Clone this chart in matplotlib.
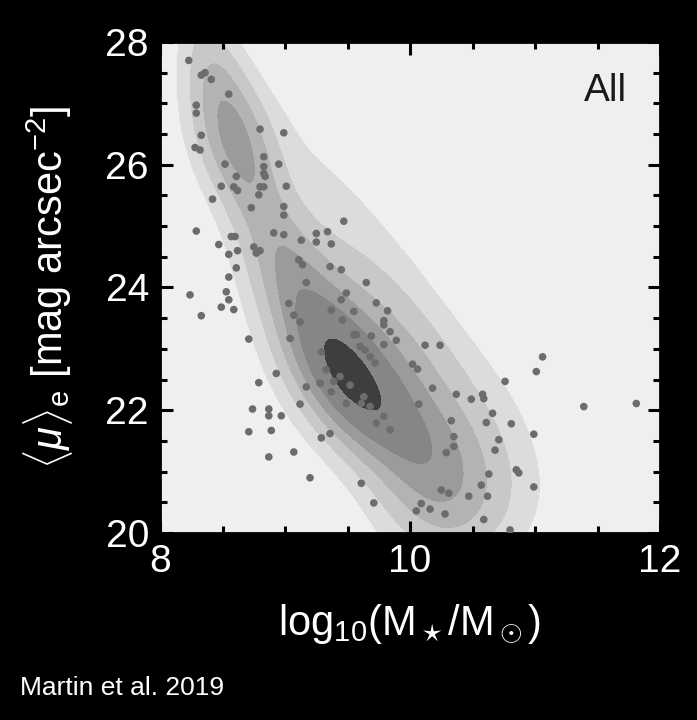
import numpy as np
import matplotlib.pyplot as plt
from matplotlib import font_manager
from matplotlib.ticker import MultipleLocator

# scatter points (log10 M*, <mu>_e)
mass = [8.23, 8.33, 8.36, 8.41, 8.55, 8.29, 8.29, 8.33, 8.28, 8.32, 8.80, 8.99, 8.83, 8.95, 8.83,
        8.83, 8.84, 8.52, 8.61, 8.49, 8.59, 8.62, 8.80, 8.83, 8.79, 9.01, 8.42, 8.73, 8.99, 8.99,
        9.47, 8.29, 8.47, 8.57, 8.60, 8.55, 8.62, 8.61, 8.55, 8.91, 8.99, 9.13, 9.25, 9.25, 9.34,
        9.37, 8.75, 8.77, 8.80, 9.11, 9.14, 9.36, 9.45, 9.65, 9.17, 8.24, 8.33, 8.53, 8.55, 8.49,
        8.59, 8.71, 8.93, 8.79, 8.74, 8.87, 8.87, 8.97, 8.71, 8.89, 8.87, 9.07, 9.20, 9.29, 9.36,
        9.12, 9.61, 9.71, 9.49, 9.45, 9.37, 9.55, 9.46, 9.73, 9.82, 9.79, 9.79, 9.84, 9.89, 9.69,
        9.55, 9.79, 10.12, 10.24, 10.02, 10.06, 10.18, 10.37, 10.49, 10.58, 10.59, 10.76, 11.01, 11.06,
        10.66, 10.81, 10.61, 10.33, 10.07, 10.35, 10.35, 10.29, 10.71, 10.68, 10.99, 10.85, 10.87, 10.63,
        10.99, 10.57, 10.62, 10.47, 10.25, 10.31, 10.09, 10.05, 10.16, 10.28, 10.59, 10.80, 11.39, 11.81,
        9.03, 9.07, 9.12, 9.04, 9.29, 9.33, 9.44, 9.39, 9.28, 9.52, 9.37, 9.63, 9.49, 9.61, 9.68,
        9.79, 9.84, 9.73, 9.60, 9.64, 9.57, 9.68, 9.72, 9.17]
mu_e = [27.70, 27.46, 27.50, 27.39, 27.15, 26.97, 26.84, 26.48, 26.28, 26.24, 26.58, 26.52, 26.13, 26.01, 25.97,
        25.86, 25.81, 26.01, 25.81, 25.65, 25.64, 25.58, 25.64, 25.64, 25.51, 25.65, 25.44, 25.30, 25.32, 25.18,
        25.08, 24.92, 24.70, 24.83, 24.83, 24.54, 24.60, 24.32, 24.17, 24.89, 24.86, 24.77, 24.88, 24.74, 24.91,
        24.71, 24.66, 24.56, 24.60, 24.45, 24.37, 24.34, 24.29, 24.08, 24.08, 23.88, 23.54, 23.93, 23.80, 23.68,
        23.64, 23.16, 22.60, 22.45, 22.02, 22.02, 21.91, 21.91, 21.65, 21.67, 21.24, 21.32, 20.90, 21.55, 21.62,
        22.10, 20.81, 20.49, 23.91, 23.80, 23.63, 23.61, 23.47, 23.75, 23.62, 23.46, 23.39, 23.28, 23.14, 23.21,
        23.23, 23.07, 23.06, 23.06, 22.75, 22.67, 22.36, 22.26, 22.18, 22.26, 22.19, 22.47, 22.63, 22.87,
        21.95, 21.78, 21.80, 21.83, 22.10, 21.57, 21.41, 21.31, 21.52, 21.35, 21.61, 21.03, 20.98, 20.96,
        20.75, 20.78, 20.60, 20.60, 20.70, 20.65, 20.48, 20.36, 20.39, 20.31, 20.22, 20.05, 22.06, 22.11,
        23.74, 23.55, 23.44, 23.17, 22.95, 22.66, 22.55, 22.47, 22.44, 22.41, 22.30, 22.22, 22.11, 22.11, 22.06,
        21.90, 21.68, 21.79, 23.04, 22.98, 23.23, 22.87, 22.77, 22.38]

# density ridge: knot position, strength, half-width,
# plus a shoulder on the high-mass side of the sequence
ridge_x = [8.37, 8.48, 8.60, 8.74, 8.90, 9.06, 9.24, 9.42, 9.62, 9.88, 10.12, 10.28, 10.38]
ridge_y = [28.0, 27.2, 26.4, 25.6, 24.85, 24.15, 23.45, 22.8, 22.2, 21.7, 21.2, 20.7, 20.15]
ridge_weight = [0.10, 0.21, 0.30, 0.19, 0.16, 0.24, 0.32, 0.45, 0.42, 0.29, 0.23, 0.17, 0.13]
ridge_width = [0.13, 0.18, 0.20, 0.19, 0.20, 0.22, 0.24, 0.25, 0.25, 0.27, 0.30, 0.32, 0.33]
shoulder_weight = [0.0, 0.0, 0.02, 0.03, 0.04, 0.06, 0.09, 0.10, 0.10, 0.09, 0.07, 0.04, 0.02]
shoulder_offset = 0.5
shoulder_width = 0.28
along_width = 0.30

levels = [0.06, 0.15, 0.27, 0.40, 0.55, 0.80, 10.0]
fill_colors = ['#dcdcdc', '#c8c8c8', '#b3b3b3', '#9b9b9b', '#868686', '#3e3e3e']

plt.rcParams['font.family'] = ['Liberation Sans', 'DejaVu Sans']
plt.rcParams['mathtext.fontset'] = 'custom'
plt.rcParams['mathtext.rm'] = 'Liberation Sans'
plt.rcParams['mathtext.it'] = 'Liberation Sans:italic'

font_names = {f.name for f in font_manager.fontManager.ttflist}
if 'Liberation Sans Narrow' in font_names:
    caption_font, caption_size = 'Liberation Sans Narrow', 22
else:
    caption_font, caption_size = 'Liberation Sans', 19

fig = plt.figure(figsize=(6.97, 7.2), dpi=100, facecolor='black')
ax = fig.add_axes([0.2296, 0.2597, 0.7174, 0.682])
ax.set_facecolor('#efefef')

# density on a grid, working in (x, mu/2) so both axes have similar scale
gx, gy = np.meshgrid(np.linspace(8, 12, 400), np.linspace(20, 28, 400))
ku = np.array(ridge_x)
kv = np.array(ridge_y) / 2.0
tu, tv = np.gradient(ku), np.gradient(kv)
norm = np.hypot(tu, tv)
tu, tv = tu / norm, tv / norm
dens = np.zeros_like(gx)
for i in range(len(ku)):
    du, dv = gx - ku[i], gy / 2.0 - kv[i]
    a = du * tu[i] + dv * tv[i]
    q = -du * tv[i] + dv * tu[i]
    along = np.exp(-0.5 * (a / along_width) ** 2)
    dens += ridge_weight[i] * along * np.exp(-0.5 * (q / ridge_width[i]) ** 2)
    dens += shoulder_weight[i] * along * np.exp(-0.5 * ((q - shoulder_offset) / shoulder_width) ** 2)

ax.contourf(gx, gy, dens, levels=levels, colors=fill_colors)
ax.scatter(mass, mu_e, s=30, color='#6c6c6c', edgecolors='none', zorder=3)

ax.set_xlim(8, 12)
ax.set_ylim(20, 28)
ax.xaxis.set_major_locator(MultipleLocator(2))
ax.xaxis.set_minor_locator(MultipleLocator(0.5))
ax.yaxis.set_major_locator(MultipleLocator(2))
ax.yaxis.set_minor_locator(MultipleLocator(0.5))
ax.tick_params(which='both', direction='in', top=True, right=True, color='black',
               labelcolor='white', labelsize=28, width=2.2)
ax.tick_params(which='major', length=9, pad=8)
ax.tick_params(which='minor', length=5)
for s in ax.spines.values():
    s.set_color('black')
    s.set_linewidth(2)

ax.set_xlabel(r'log$_{10}$(M$_\star$/M$_\odot$)', color='white', fontsize=30, labelpad=16)
ax.set_ylabel(r'$\langle\mu\rangle_{\rm e}$ [mag arcsec$^{-2}$]', color='white', fontsize=30, labelpad=22)
ax.text(0.934, 0.90, 'All', transform=ax.transAxes, ha='right', va='center',
        fontsize=28, color='#1a1a1a')

fig.text(0.029, 0.035, 'Martin et al. 2019', color='white', fontsize=caption_size,
         family=[caption_font, 'DejaVu Sans'])

fig.savefig('out.png', dpi=100, facecolor='black')
